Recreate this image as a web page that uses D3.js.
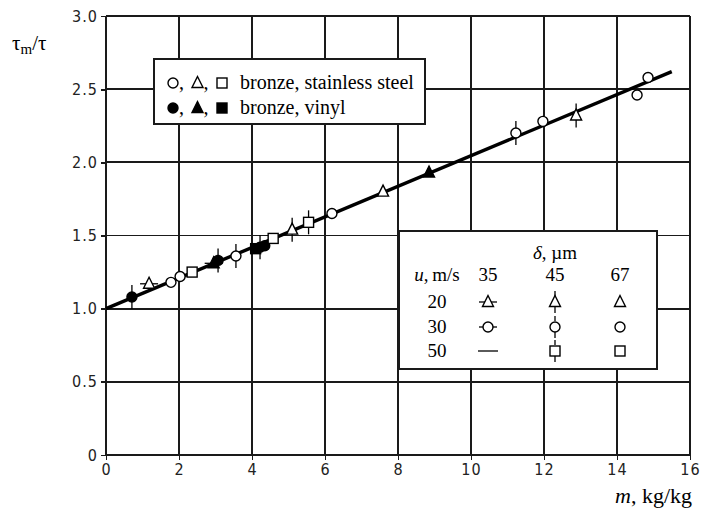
<!DOCTYPE html>
<html>
<head>
<meta charset="utf-8">
<script src="https://cdn.jsdelivr.net/npm/d3@7/dist/d3.min.js"></script>
<style>
  body { margin: 0; background: #fff; }
  .tick text { font-family: "Liberation Sans Narrow", "DejaVu Sans Condensed", sans-serif; font-size: 16px; letter-spacing: 1px; fill: #222; }
  text.serif { font-family: "Liberation Serif", "DejaVu Serif", serif; fill: #000; }
</style>
</head>
<body>
<div id="chart"></div>
<script>
// tick values
var xTicks = [0, 2, 4, 6, 8, 10, 12, 14, 16];
var yTicks = [0, 0.5, 1.0, 1.5, 2.0, 2.5, 3.0];

// measured points: loading m, ratio tau_m/tau, marker shape, filled?, stub direction
var pointM     = [0.71, 1.18, 1.78, 2.03, 2.36, 2.95, 3.07, 3.56, 4.10, 4.22, 4.35, 4.58, 5.10, 5.55, 6.19, 7.59, 8.85, 11.23, 11.97, 12.88, 14.55, 14.85];
var pointRatio = [1.08, 1.17, 1.18, 1.22, 1.25, 1.31, 1.33, 1.36, 1.41, 1.42, 1.43, 1.48, 1.54, 1.59, 1.65, 1.80, 1.93, 2.20, 2.28, 2.32, 2.46, 2.58];
var pointShape = ["circle", "triangle", "circle", "circle", "square", "triangle", "circle", "circle", "square", "circle", "circle", "square", "triangle", "square", "circle", "triangle", "triangle", "circle", "circle", "triangle", "circle", "circle"];
var pointFill  = [true, false, false, false, false, true, true, false, true, true, true, false, false, false, false, false, true, false, false, false, false, false];
var pointStub  = ["v", "h", "", "", "", "h", "v", "v", "", "v", "", "", "v", "v", "", "", "", "v", "", "v", "", ""];

// fitted line
var fitM = [0, 15.5];
var fitRatio = [1.0, 2.62];

// legend tables
var materialLabels = ["bronze, stainless steel", "bronze, vinyl"];
var deltaValues = ["35", "45", "67"];
var speedValues = ["20", "30", "50"];
var speedShapes = ["triangle", "circle", "square"];
var deltaStubs = ["h", "v", ""];

var W = 701, H = 516;
var margin = { top: 16, right: 11, bottom: 61, left: 106 };
var width = W - margin.left - margin.right;
var height = H - margin.top - margin.bottom;
var serif = '"Liberation Serif", "DejaVu Serif", serif';

var svg = d3.select("#chart").append("svg")
    .attr("width", W)
    .attr("height", H);

var g = svg.append("g")
    .attr("transform", "translate(" + margin.left + "," + margin.top + ")");

var x = d3.scaleLinear().domain([0, 16]).range([0, width]);
var y = d3.scaleLinear().domain([0, 3]).range([height, 0]);

// grid
g.selectAll(".gx").data(xTicks).enter().append("line")
    .attr("x1", function(d) { return x(d); }).attr("x2", function(d) { return x(d); })
    .attr("y1", 0).attr("y2", height)
    .attr("stroke", "#1a1a1a").attr("stroke-width", 1.8).attr("shape-rendering", "crispEdges");
g.selectAll(".gy").data(yTicks).enter().append("line")
    .attr("y1", function(d) { return y(d); }).attr("y2", function(d) { return y(d); })
    .attr("x1", 0).attr("x2", width)
    .attr("stroke", "#1a1a1a").attr("stroke-width", 1.8).attr("shape-rendering", "crispEdges");

var xAxis = d3.axisBottom(x).tickValues(xTicks).tickSize(5).tickPadding(4);
var yAxis = d3.axisLeft(y).tickValues(yTicks).tickSize(5).tickPadding(3)
    .tickFormat(function(d) { return d === 0 ? "0" : d3.format(".1f")(d); });

function styleAxis(a) {
    a.select(".domain").remove();
    a.selectAll("line").attr("stroke", "#1a1a1a").attr("stroke-width", 1.8).attr("shape-rendering", "crispEdges");
}
g.append("g").attr("transform", "translate(0," + height + ")").call(xAxis).call(styleAxis);
g.append("g").call(yAxis).call(styleAxis);

// fit line
g.append("line")
    .attr("x1", x(fitM[0])).attr("y1", y(fitRatio[0]))
    .attr("x2", x(fitM[1])).attr("y2", y(fitRatio[1]))
    .attr("stroke", "#000").attr("stroke-width", 3.4);

function drawMarker(sel, shape, filled, stub, cx, cy) {
    var fill = filled ? "#000" : "#fff";
    if (stub === "v") {
        sel.append("line").attr("x1", cx).attr("x2", cx).attr("y1", cy - 12).attr("y2", cy + 12)
            .attr("stroke", "#000").attr("stroke-width", 1.3);
    } else if (stub === "h") {
        sel.append("line").attr("x1", cx - 9).attr("x2", cx + 9).attr("y1", cy).attr("y2", cy)
            .attr("stroke", "#000").attr("stroke-width", 1.3);
    }
    if (shape === "circle") {
        sel.append("circle").attr("cx", cx).attr("cy", cy).attr("r", 5)
            .attr("fill", fill).attr("stroke", "#000").attr("stroke-width", 1.4);
    } else if (shape === "square") {
        sel.append("rect").attr("x", cx - 5).attr("y", cy - 5).attr("width", 10).attr("height", 10)
            .attr("fill", fill).attr("stroke", "#000").attr("stroke-width", 1.4);
    } else if (shape === "triangle") {
        sel.append("path")
            .attr("d", "M" + cx + "," + (cy - 6.5) + "L" + (cx + 5.5) + "," + (cy + 4.5) + "L" + (cx - 5.5) + "," + (cy + 4.5) + "Z")
            .attr("fill", fill).attr("stroke", "#000").attr("stroke-width", 1.4);
    }
}

var pts = g.append("g");
for (var i = 0; i < pointM.length; i++) {
    drawMarker(pts, pointShape[i], pointFill[i], pointStub[i], x(pointM[i]), y(pointRatio[i]));
}

function serifText(sel, px) {
    return sel.append("text").attr("class", "serif")
        .style("font-family", serif).style("font-size", px + "px");
}

// material legend
var leg1 = svg.append("g").attr("transform", "translate(154,59)");
leg1.append("rect").attr("width", 271).attr("height", 65)
    .attr("fill", "#fff").attr("stroke", "#1a1a1a").attr("stroke-width", 1.8).attr("shape-rendering", "crispEdges");
materialLabels.forEach(function(lbl, r) {
    var cy = 24 + r * 25;
    var filled = r === 1;
    ["circle", "triangle", "square"].forEach(function(s, k) {
        drawMarker(leg1, s, filled, "", 19 + k * 24.5, cy);
        if (k < 2) {
            serifText(leg1, 20).attr("x", 25 + k * 24.5).attr("y", cy + 6).text(",");
        }
    });
    serifText(leg1, 20).attr("x", 86).attr("y", cy + 6).text(lbl);
});

// speed / delta legend
var leg2 = svg.append("g").attr("transform", "translate(399,231)");
leg2.append("rect").attr("width", 258).attr("height", 138)
    .attr("fill", "#fff").attr("stroke", "#1a1a1a").attr("stroke-width", 1.8).attr("shape-rendering", "crispEdges");
var colX = [89, 156, 221];
var rowY = [71, 96, 120];
var hd = serifText(leg2, 19).attr("x", 156).attr("y", 28).attr("text-anchor", "middle");
hd.append("tspan").style("font-style", "italic").text("δ");
hd.append("tspan").text(", µm");
var uh = serifText(leg2, 19).attr("x", 38).attr("y", 50).attr("text-anchor", "middle");
uh.append("tspan").style("font-style", "italic").text("u");
uh.append("tspan").text(",\u2009m/s");
deltaValues.forEach(function(d, c) {
    serifText(leg2, 19).attr("x", colX[c]).attr("y", 50).attr("text-anchor", "middle").text(d);
});
speedValues.forEach(function(s, r) {
    serifText(leg2, 19).attr("x", 38).attr("y", rowY[r] + 6).attr("text-anchor", "middle").text(s);
    deltaValues.forEach(function(d, c) {
        if (r === 2 && c === 0) {
            leg2.append("line").attr("x1", colX[c] - 10).attr("x2", colX[c] + 10)
                .attr("y1", rowY[r]).attr("y2", rowY[r]).attr("stroke", "#000").attr("stroke-width", 1.3);
        } else {
            drawMarker(leg2, speedShapes[r], false, deltaStubs[c] === "v" ? "" : deltaStubs[c], colX[c], rowY[r]);
            if (deltaStubs[c] === "v") {
                leg2.append("line").attr("x1", colX[c]).attr("x2", colX[c]).attr("y1", rowY[r] - 11).attr("y2", rowY[r] - 6)
                    .attr("stroke", "#000").attr("stroke-width", 1.3);
                leg2.append("line").attr("x1", colX[c]).attr("x2", colX[c]).attr("y1", rowY[r] + 5).attr("y2", rowY[r] + 11)
                    .attr("stroke", "#000").attr("stroke-width", 1.3);
            }
        }
    });
});

// axis titles
var yt = serifText(svg, 21).attr("x", 12).attr("y", 50);
yt.append("tspan").text("τ");
yt.append("tspan").attr("dy", 4).style("font-size", "15px").text("m");
yt.append("tspan").attr("dy", -4).text("/τ");

var xt = serifText(svg, 22).attr("x", 692).attr("y", 503).attr("text-anchor", "end");
xt.append("tspan").style("font-style", "italic").text("m");
xt.append("tspan").text(", kg/kg");
</script>
</body>
</html>
